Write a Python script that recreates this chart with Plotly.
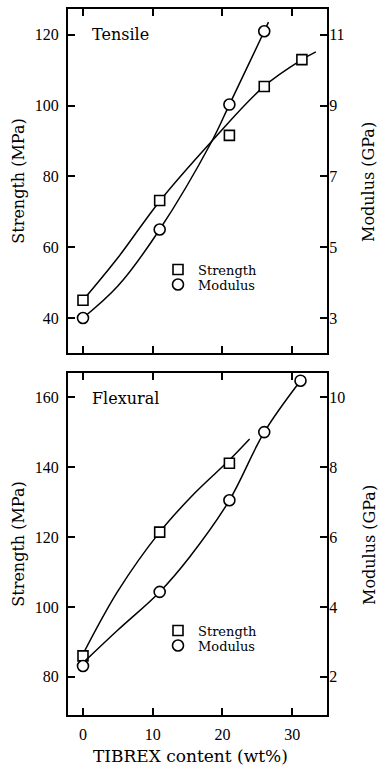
import plotly.graph_objects as go

# ---------------- data ----------------
# Tensile panel
tens_x_strength = [0, 11, 21, 26, 31.4]
tens_strength = [45, 73.2, 91.6, 105.4, 113.0]          # MPa
tens_x_modulus = [0, 11, 21, 26]
tens_modulus = [3.0, 5.5, 9.03, 11.1]                  # GPa
# hand-drawn fit curves
tens_fit_x_strength = [0, 5, 11, 18.5, 26, 31.4, 33.4]
tens_fit_strength = [45, 57, 73, 90, 105.5, 113, 115.2]
tens_fit_x_modulus = [0, 5, 11, 18.5, 21, 26, 26.6]
tens_fit_modulus = [3.0, 3.9, 5.5, 8.0, 9.03, 11.1, 11.36]

# Flexural panel
flex_x_strength = [0, 11, 21]
flex_strength = [86, 121.4, 141.1]                     # MPa
flex_x_modulus = [0, 11, 21, 26, 31.2]
flex_modulus = [2.31, 4.43, 7.05, 9.0, 10.47]          # GPa
flex_fit_x_strength = [0, 5, 11, 16, 21, 23.9]
flex_fit_strength = [86.5, 104.5, 121.4, 132.5, 142, 148]
flex_fit_x_modulus = [0, 5, 11, 15.3, 21, 26, 31.2]
flex_fit_modulus = [2.4, 3.34, 4.43, 5.43, 7.05, 9.0, 10.47]

x_ticks = [0, 10, 20, 30]
tens_strength_ticks = [40, 60, 80, 100, 120]
tens_modulus_ticks = [3, 5, 7, 9, 11]
flex_strength_ticks = [80, 100, 120, 140, 160]
flex_modulus_ticks = [2, 4, 6, 8, 10]

# ---------------- layout geometry ----------------
W, H = 379, 766
def px_x(p):
    return p / W
def px_y(p):
    return 1 - p / H

X_DOM = [px_x(68), px_x(327)]
TOP_DOM = [px_y(353), px_y(9)]
BOT_DOM = [px_y(715), px_y(373)]

TEXT_FONT = "DejaVu Serif"
NUM_FONT = "Liberation Serif"

sq = dict(symbol="square", size=10, color="white", line=dict(color="black", width=1.6))
ci = dict(symbol="circle", size=11, color="white", line=dict(color="black", width=1.6))
ln = dict(color="black", width=1.5, shape="spline", smoothing=1.0)

fig = go.Figure()

# Tensile curves
fig.add_trace(go.Scatter(x=tens_fit_x_strength, y=tens_fit_strength, mode="lines", line=ln,
                         xaxis="x", yaxis="y", showlegend=False, hoverinfo="skip"))
fig.add_trace(go.Scatter(x=tens_fit_x_modulus, y=tens_fit_modulus, mode="lines", line=ln,
                         xaxis="x", yaxis="y2", showlegend=False, hoverinfo="skip"))
fig.add_trace(go.Scatter(x=tens_x_strength, y=tens_strength, mode="markers", marker=sq,
                         name="Strength", xaxis="x", yaxis="y", legend="legend"))
fig.add_trace(go.Scatter(x=tens_x_modulus, y=tens_modulus, mode="markers", marker=ci,
                         name="Modulus", xaxis="x", yaxis="y2", legend="legend2"))

# Flexural curves
fig.add_trace(go.Scatter(x=flex_fit_x_strength, y=flex_fit_strength, mode="lines", line=ln,
                         xaxis="x2", yaxis="y3", showlegend=False, hoverinfo="skip"))
fig.add_trace(go.Scatter(x=flex_fit_x_modulus, y=flex_fit_modulus, mode="lines", line=ln,
                         xaxis="x2", yaxis="y4", showlegend=False, hoverinfo="skip"))
fig.add_trace(go.Scatter(x=flex_x_strength, y=flex_strength, mode="markers", marker=sq,
                         name="Strength", xaxis="x2", yaxis="y3", legend="legend3"))
fig.add_trace(go.Scatter(x=flex_x_modulus, y=flex_modulus, mode="markers", marker=ci,
                         name="Modulus", xaxis="x2", yaxis="y4", legend="legend4"))

axis_common = dict(showline=True, linecolor="black", linewidth=2, ticks="inside",
                   ticklen=7, tickwidth=1.5, tickcolor="black", showgrid=False,
                   zeroline=False, tickfont=dict(family=NUM_FONT, size=16, color="black"))

XR = [-2.15, 35.0]
TOP_L = [30.1, 127.3]
TOP_R = [(TOP_L[0] - 40) / 10 + 3, (TOP_L[1] - 40) / 10 + 3]
BOT_L = [69.1, 166.9]
BOT_R = [(BOT_L[0] - 80) / 10 + 2, (BOT_L[1] - 80) / 10 + 2]

title_font = dict(family=TEXT_FONT, size=16, color="black")

fig.update_layout(
    width=W, height=H, margin=dict(l=0, r=0, t=0, b=0),
    paper_bgcolor="white", plot_bgcolor="white",
    xaxis=dict(axis_common, domain=X_DOM, anchor="y", range=XR, tickvals=x_ticks,
               mirror="ticks", showticklabels=False),
    yaxis=dict(axis_common, domain=TOP_DOM, anchor="x", range=TOP_L, tickvals=tens_strength_ticks,
               title=dict(text="Strength (MPa)", font=title_font, standoff=6), ticklabelstandoff=4),
    yaxis2=dict(axis_common, overlaying="y", side="right", anchor="x", range=TOP_R,
                tickvals=tens_modulus_ticks, ticklabelstandoff=-3),
    xaxis2=dict(axis_common, domain=X_DOM, anchor="y3", range=XR, tickvals=x_ticks,
                mirror="ticks", ticklabelstandoff=4),
    yaxis3=dict(axis_common, domain=BOT_DOM, anchor="x2", range=BOT_L, tickvals=flex_strength_ticks,
                title=dict(text="Strength (MPa)", font=title_font, standoff=6), ticklabelstandoff=4),
    yaxis4=dict(axis_common, overlaying="y3", side="right", anchor="x2", range=BOT_R,
                tickvals=flex_modulus_ticks, ticklabelstandoff=-3),
    font=dict(family=TEXT_FONT, color="black"),
    annotations=[
        dict(text="Tensile", xref="paper", yref="paper", x=px_x(90), y=px_y(34),
             xanchor="left", yanchor="middle", showarrow=False,
             font=dict(family=TEXT_FONT, size=16, color="black")),
        dict(text="Flexural", xref="paper", yref="paper", x=px_x(90), y=px_y(398),
             xanchor="left", yanchor="middle", showarrow=False,
             font=dict(family=TEXT_FONT, size=16, color="black")),
        dict(text="Modulus (GPa)", xref="paper", yref="paper", x=px_x(369), y=px_y(182),
             xanchor="center", yanchor="middle", textangle=-90, showarrow=False, font=title_font),
        dict(text="Modulus (GPa)", xref="paper", yref="paper", x=px_x(369), y=px_y(545),
             xanchor="center", yanchor="middle", textangle=-90, showarrow=False, font=title_font),
        dict(text="TIBREX content (wt%)", xref="paper", yref="paper", x=px_x(190), y=px_y(756),
             xanchor="center", yanchor="middle", showarrow=False,
             font=dict(family=TEXT_FONT, size=17, color="black")),
    ],
)

leg_common = dict(bgcolor="rgba(0,0,0,0)", borderwidth=0, xanchor="left", yanchor="middle",
                  font=dict(family=TEXT_FONT, size=13, color="black"), itemwidth=30)
fig.update_layout(
    legend=dict(leg_common, x=px_x(158), y=px_y(269.5)),
    legend2=dict(leg_common, x=px_x(158), y=px_y(284.5)),
    legend3=dict(leg_common, x=px_x(158), y=px_y(630.5)),
    legend4=dict(leg_common, x=px_x(158), y=px_y(645.5)),
)

fig.write_html("out.html",
               config={"displayModeBar": False},
               post_script="document.body.style.margin='0';document.body.style.overflow='hidden';")
